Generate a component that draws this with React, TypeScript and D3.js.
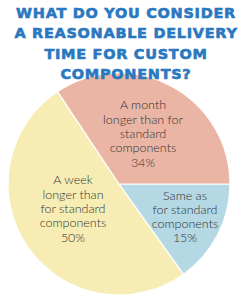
import React from "react";
import * as d3 from "d3";

const titleLines = ["WHAT DO YOU CONSIDER", "A REASONABLE DELIVERY", "TIME FOR CUSTOM", "COMPONENTS?"];
const categories = ["Same as for standard components", "A week longer than for standard components", "A month longer than for standard components"];
const values = [15, 50, 34];
const colors = ["#B4D8E4", "#F7EDB4", "#EAB5A4"];
const labelLines = [
  ["Same as", "for standard", "components", "15%"],
  ["A week", "longer than", "for standard", "components", "50%"],
  ["A month", "longer than for", "standard", "components", "34%"],
];
// label anchor (baseline of the middle line) relative to the pie centre, px
const labelPos = [
  [66, 37],
  [-46, 29],
  [24, -46],
];

const W = 250;
const H = 300;
const cx = 119;
const cy = 184;
const r = 111;
const lineH = 14.3;

export default function App() {
  const pie = d3
    .pie<number>()
    .sort(null)
    .startAngle(Math.PI / 2)
    .endAngle(Math.PI / 2 + Math.PI * 2)
    .value((d) => d);
  const arcs = pie(values);
  const arc = d3.arc<d3.PieArcDatum<number>>().innerRadius(0).outerRadius(r);

  return (
    <svg width={W} height={H} style={{ position: "absolute", left: 0, top: 0, background: "#fff" }}>
      <g transform={`translate(${cx},${cy})`}>
        {arcs.map((a, i) => (
          <path key={categories[i]} d={arc(a) || ""} fill={colors[i]} stroke="#fff" strokeWidth={1.2} />
        ))}
        {labelLines.map((lines, i) => (
          <text
            key={i}
            textAnchor="middle"
            fontFamily="Lato, sans-serif"
            fontWeight={300}
            fontSize={12.5}
            fill="#333"
          >
            {lines.map((l, j) => (
              <tspan key={j} x={labelPos[i][0]} y={labelPos[i][1] + (j - (lines.length - 1) / 2) * lineH}>
                {l}
              </tspan>
            ))}
          </text>
        ))}
      </g>
      <g
        fontFamily="'DejaVu Sans', sans-serif"
        fontWeight="bold"
        fontSize={14.5}
        fill="#2A78BF"
        stroke="#2A78BF"
        strokeWidth={0.6}
        textAnchor="middle"
      >
        {titleLines.map((t, i) => (
          <text key={i} x={126} y={17.5 + i * 20.6} letterSpacing={0.7}>
            {t}
          </text>
        ))}
      </g>
    </svg>
  );
}
